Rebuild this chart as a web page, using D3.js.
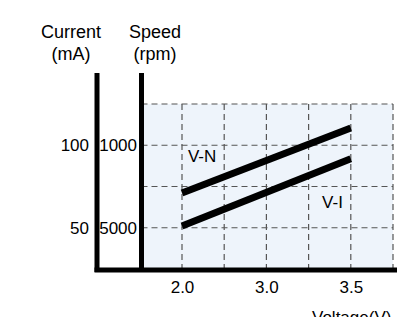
<!DOCTYPE html>
<html>
<head>
<script src="https://d3js.org/d3.v7.min.js"></script>
<style>
  body { margin: 0; background: #fff; }
  svg text { font-family: "Liberation Sans", Arial, sans-serif; fill: #000; }
  .grid { stroke: #555; stroke-width: 1.2; stroke-dasharray: 6,4; fill: none; }
  .curve { stroke: #000; stroke-width: 7; fill: none; }
</style>
</head>
<body>
<div id="chart"></div>
<script>
// grid positions (illustration units) and labels
const gridX = [0, 1, 2, 3, 4, 5];
const gridY = [1, 2, 3, 4];
const xTickPos = [0, 2, 4];
const xTickLabels = ["2.0", "3.0", "3.5"];
const yTickPos = [3, 1];
const currentLabels = ["100", "50"];
const speedLabels = ["1000", "5000"];

// the two characteristic lines
const vnX = [0, 4];
const vnY = [1.84, 3.42];
const viX = [0, 4];
const viY = [1.04, 2.67];

const W = 397, H = 317;
const svg = d3.select("#chart").append("svg")
  .attr("width", W).attr("height", H);

const x = d3.scaleLinear().domain([0, 5]).range([182, 393]);
const y = d3.scaleLinear().domain([0, 4]).range([269, 104]);

const axCurX = 97, axSpdX = 141.5, axTop = 73, axBot = 270;

// shaded plot region
svg.append("rect")
  .attr("x", axSpdX + 1.5).attr("y", y(4))
  .attr("width", x(5) - axSpdX - 1.5).attr("height", y(0) - y(4))
  .attr("fill", "#eef4fb");

// dashed grid
svg.selectAll(".gx").data(gridX).join("line")
  .attr("class", "grid")
  .attr("x1", d => x(d)).attr("x2", d => x(d))
  .attr("y1", y(4)).attr("y2", y(0));
svg.selectAll(".gy").data(gridY).join("line")
  .attr("class", "grid")
  .attr("x1", axSpdX).attr("x2", x(5))
  .attr("y1", d => y(d)).attr("y2", d => y(d));

// lines
const line = d3.line().x(d => x(d[0])).y(d => y(d[1]));
[[vnX, vnY], [viX, viY]].forEach(([xs, ys]) => {
  svg.append("path").attr("class", "curve")
    .attr("d", line(d3.zip(xs, ys)));
});

svg.append("text").attr("x", x(0.14)).attr("y", y(2.59))
  .attr("font-size", 17).text("V-N");
svg.append("text").attr("x", x(3.32)).attr("y", y(1.48))
  .attr("font-size", 17).text("V-I");

// thick axis lines
svg.append("line").attr("x1", axCurX).attr("x2", axCurX)
  .attr("y1", axTop).attr("y2", axBot + 2)
  .attr("stroke", "#000").attr("stroke-width", 5);
svg.append("line").attr("x1", axSpdX).attr("x2", axSpdX)
  .attr("y1", axTop).attr("y2", axBot)
  .attr("stroke", "#000").attr("stroke-width", 5);
svg.append("line").attr("x1", axCurX - 2.5).attr("x2", W)
  .attr("y1", axBot).attr("y2", axBot)
  .attr("stroke", "#000").attr("stroke-width", 5);

// tick labels via axes
const xAxis = svg.append("g").attr("transform", `translate(0,${axBot})`)
  .call(d3.axisBottom(x).tickValues(xTickPos)
    .tickFormat((d, i) => xTickLabels[i]).tickSize(0).tickPadding(11));
const curAxis = svg.append("g").attr("transform", "translate(89,0)")
  .call(d3.axisLeft(y).tickValues(yTickPos)
    .tickFormat((d, i) => currentLabels[i]).tickSize(0).tickPadding(0));
const spdAxis = svg.append("g").attr("transform", "translate(137,0)")
  .call(d3.axisLeft(y).tickValues(yTickPos)
    .tickFormat((d, i) => speedLabels[i]).tickSize(0).tickPadding(0));
[xAxis, curAxis, spdAxis].forEach(g => {
  g.select(".domain").remove();
  g.selectAll("text").attr("font-size", 17)
    .attr("font-family", "'Liberation Sans', Arial, sans-serif").attr("fill", "#000");
});

// axis titles
const titles = [
  ["Current", 71, 38], ["(mA)", 71, 60],
  ["Speed", 155, 38], ["(rpm)", 155, 60]
];
svg.selectAll(".title").data(titles).join("text")
  .attr("x", d => d[1]).attr("y", d => d[2])
  .attr("text-anchor", "middle").attr("font-size", 18)
  .text(d => d[0]);
svg.append("text").attr("x", 312).attr("y", 323)
  .attr("font-size", 17).text("Voltage(V)");
</script>
</body>
</html>
